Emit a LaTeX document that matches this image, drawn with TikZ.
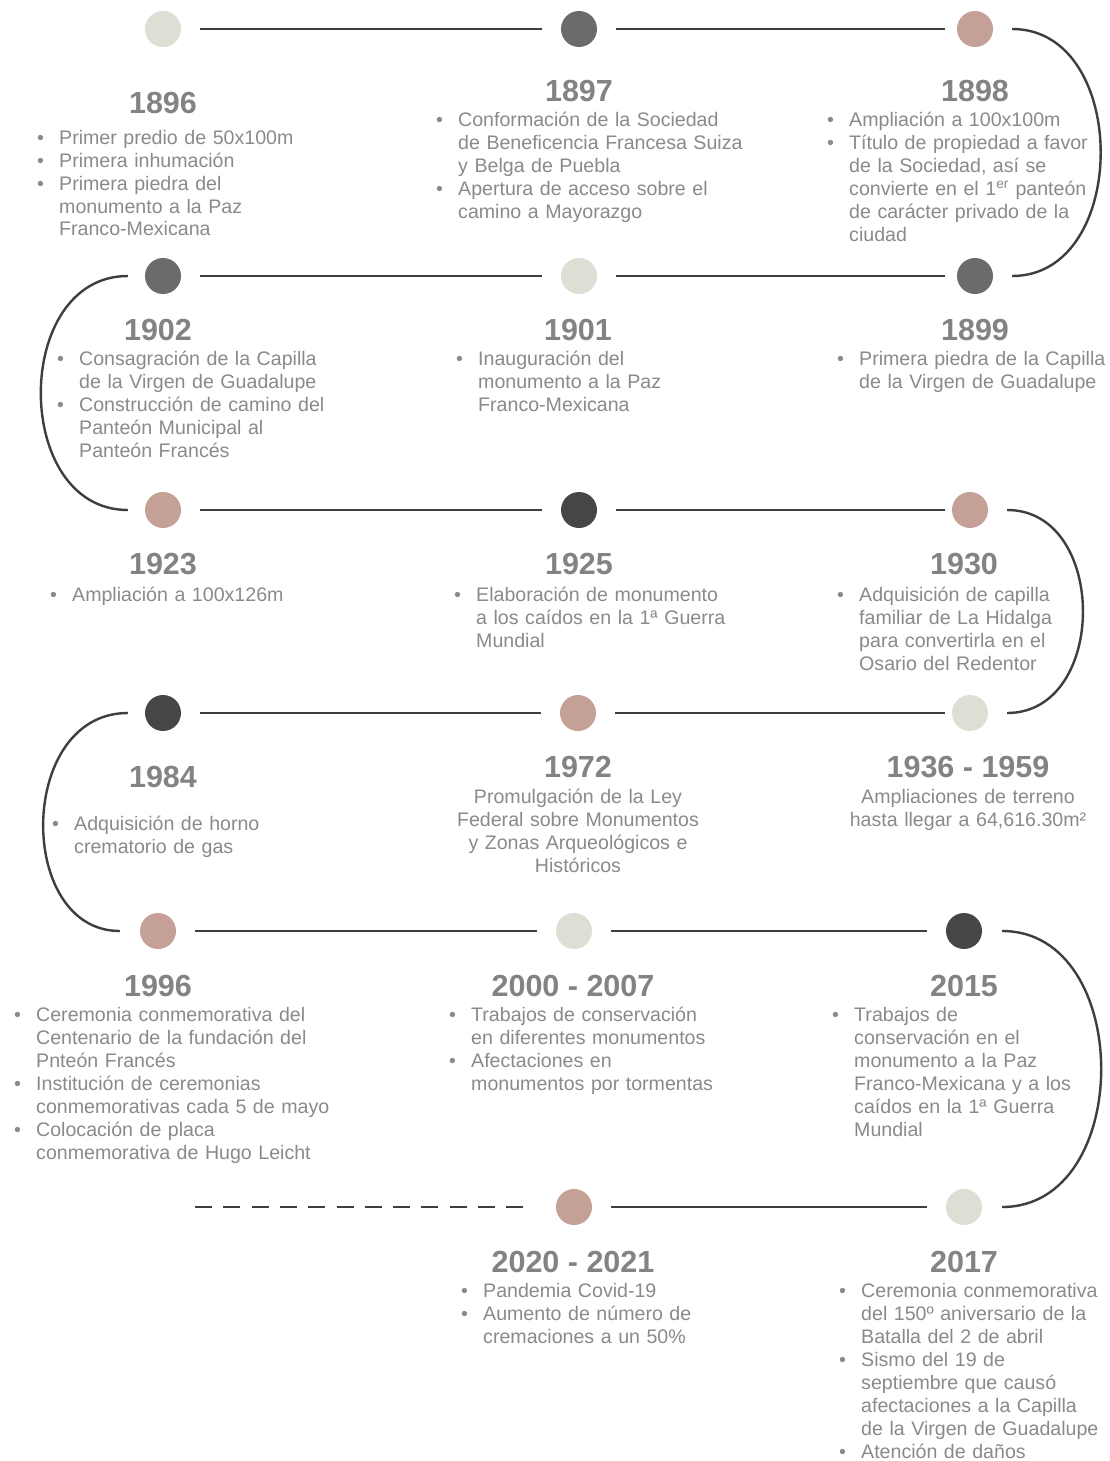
\documentclass[tikz,border=0pt]{standalone}
\usepackage{fontspec}
\setmainfont{Liberation Sans}

\definecolor{sage}{HTML}{DCDFD4}
\definecolor{rose}{HTML}{C4A096}
\definecolor{slate}{HTML}{6B6B6B}
\definecolor{coal}{HTML}{464646}
\definecolor{linegray}{HTML}{3E3E3E}
\definecolor{txtgray}{HTML}{8A8A8A}
\definecolor{yeargray}{HTML}{838383}

\newlength{\bulw}\setlength{\bulw}{22pt}
\newcommand{\itm}[1]{\hangindent=\bulw\hangafter=1\noindent\makebox[\bulw][l]{\textbullet}#1\par}

\tikzset{
  dot/.style={circle,minimum size=36pt,inner sep=0pt},
  link/.style={draw=linegray,line width=2.4pt,shorten <=19pt,shorten >=19pt},
  turn/.style={draw=linegray,line width=2.4pt},
  year/.style={font=\bfseries\fontsize{30.5}{30.5}\selectfont,text=yeargray,inner sep=0pt},
  info/.style={font=\fontsize{19.6}{23}\selectfont,text=txtgray,inner sep=0pt,text width=380pt,align=left,anchor=base west},
  infoc/.style={font=\fontsize{19.6}{23}\selectfont,text=txtgray,inner sep=0pt,text width=300pt,align=center,anchor=base},
}

\begin{document}
\begin{tikzpicture}[x=1pt,y=-1pt]
\useasboundingbox[fill=white] (0,0) rectangle (1109,1461);

% dots
\node[dot,fill=sage]  (d1896) at (163,29)  {};
\node[dot,fill=slate] (d1897) at (579,29)  {};
\node[dot,fill=rose]  (d1898) at (975,29)  {};
\node[dot,fill=slate] (d1902) at (163,276) {};
\node[dot,fill=sage]  (d1901) at (579,276) {};
\node[dot,fill=slate] (d1899) at (975,276) {};
\node[dot,fill=rose]  (d1923) at (163,510) {};
\node[dot,fill=coal]  (d1925) at (579,510) {};
\node[dot,fill=rose]  (d1930) at (970,510) {};
\node[dot,fill=coal]  (d1984) at (163,713) {};
\node[dot,fill=rose]  (d1972) at (578,713) {};
\node[dot,fill=sage]  (d1936) at (970,713) {};
\node[dot,fill=rose]  (d1996) at (158,931) {};
\node[dot,fill=sage]  (d2000) at (574,931) {};
\node[dot,fill=coal]  (d2015) at (964,931) {};
\node[dot,fill=rose]  (d2020) at (574,1207) {};
\node[dot,fill=sage]  (d2017) at (964,1207) {};
\coordinate (dashend) at (195,1207);

% links
\draw[link] (d1896) -- (d1897);
\draw[link,shorten >=12pt] (d1897) -- (d1898);
\draw[link] (d1902) -- (d1901);
\draw[link,shorten >=12pt] (d1901) -- (d1899);
\draw[link] (d1923) -- (d1925);
\draw[link,shorten >=7pt] (d1925) -- (d1930);
\draw[link] (d1984) -- (d1972);
\draw[link,shorten >=7pt] (d1972) -- (d1936);
\draw[link] (d1996) -- (d2000);
\draw[link] (d2000) -- (d2015);
\draw[link,dash pattern=on 17pt off 11.3pt,shorten <=0pt,shorten >=30pt] (dashend) -- (d2020);
\draw[link] (d2020) -- (d2017);

% turns between rows
\draw[turn] ([xshift=19pt]d1898.east) .. controls +(118,0) and +(118,0) .. ([xshift=19pt]d1899.east);
\draw[turn] ([xshift=-17pt]d1902.west) .. controls +(-116,0) and +(-116,0) .. ([xshift=-17pt]d1923.west);
\draw[turn] ([xshift=19pt]d1930.east) .. controls +(101,0) and +(101,0) .. ([xshift=19pt]d1936.east);
\draw[turn] ([xshift=-17pt]d1984.west) .. controls +(-111,0) and +(-104,0) .. ([xshift=-20pt]d1996.west);
\draw[turn] ([xshift=20pt]d2015.east) .. controls +(132,0) and +(132,0) .. ([xshift=20pt]d2017.east);

% years
\node[year] (y1896) at (163,103) {1896};
\node[year] (y1897) at (579,91) {1897};
\node[year] (y1898) at (975,91) {1898};
\node[year] (y1902) at (158,330) {1902};
\node[year] (y1901) at (578,330) {1901};
\node[year] (y1899) at (975,330) {1899};
\node[year] (y1923) at (163,564) {1923};
\node[year] (y1925) at (579,564) {1925};
\node[year] (y1930) at (964,564) {1930};
\node[year] (y1984) at (163,777) {1984};
\node[year] (y1972) at (578,767) {1972};
\node[year] (y1936) at (968,767) {1936 - 1959};
\node[year] (y1996) at (158,986) {1996};
\node[year] (y2000) at (573,986) {2000 - 2007};
\node[year] (y2015) at (964,986) {2015};
\node[year] (y2020) at (573,1262) {2020 - 2021};
\node[year] (y2017) at (964,1262) {2017};

% texts
\node[info] (t1896) at (37,144) {\itm{Primer predio de 50x100m}\itm{Primera inhumación}\itm{Primera piedra del\newline monumento a la Paz\newline Franco-Mexicana}};
\node[info] (t1897) at (436,127) {\itm{Conformación de la Sociedad\newline de Beneficencia Francesa Suiza\newline y Belga de Puebla}\itm{Apertura de acceso sobre el\newline camino a Mayorazgo}};
\node[info] (t1898) at (827,127) {\itm{Ampliación a 100x100m}\itm{Título de propiedad a favor\newline de la Sociedad, así se\newline convierte en el 1\textsuperscript{er} panteón\newline de carácter privado de la\newline ciudad}};
\node[info] (t1902) at (57,365) {\itm{Consagración de la Capilla\newline de la Virgen de Guadalupe}\itm{Construcción de camino del\newline Panteón Municipal al\newline Panteón Francés}};
\node[info] (t1901) at (456,365) {\itm{Inauguración del\newline monumento a la Paz\newline Franco-Mexicana}};
\node[info] (t1899) at (837,365) {\itm{Primera piedra de la Capilla\newline de la Virgen de Guadalupe}};
\node[info] (t1923) at (50,601) {\itm{Ampliación a 100x126m}};
\node[info] (t1925) at (454,601) {\itm{Elaboración de monumento\newline a los caídos en la 1ª Guerra\newline Mundial}};
\node[info] (t1930) at (837,601) {\itm{Adquisición de capilla\newline familiar de La Hidalga\newline para convertirla en el\newline Osario del Redentor}};
\node[info] (t1984) at (52,830) {\itm{Adquisición de horno\newline crematorio de gas}};
\node[infoc] (t1972) at (578,803) {Promulgación de la Ley\\ Federal sobre Monumentos\\ y Zonas Arqueológicos e\\ Históricos};
\node[infoc] (t1936) at (968,803) {Ampliaciones de terreno\\ hasta llegar a 64,616.30m²};
\node[info] (t1996) at (14,1021) {\itm{Ceremonia conmemorativa del\newline Centenario de la fundación del\newline Pnteón Francés}\itm{Institución de ceremonias\newline conmemorativas cada 5 de mayo}\itm{Colocación de placa\newline conmemorativa de Hugo Leicht}};
\node[info] (t2000) at (449,1021) {\itm{Trabajos de conservación\newline en diferentes monumentos}\itm{Afectaciones en\newline monumentos por tormentas}};
\node[info] (t2015) at (832,1021) {\itm{Trabajos de\newline conservación en el\newline monumento a la Paz\newline Franco-Mexicana y a los\newline caídos en la 1ª Guerra\newline Mundial}};
\node[info] (t2020) at (461,1297) {\itm{Pandemia Covid-19}\itm{Aumento de número de\newline cremaciones a un 50\%}};
\node[info] (t2017) at (839,1297) {\itm{Ceremonia conmemorativa\newline del 150º aniversario de la\newline Batalla del 2 de abril}\itm{Sismo del 19 de\newline septiembre que causó\newline afectaciones a la Capilla\newline de la Virgen de Guadalupe}\itm{Atención de daños}};
\end{tikzpicture}
\end{document}
